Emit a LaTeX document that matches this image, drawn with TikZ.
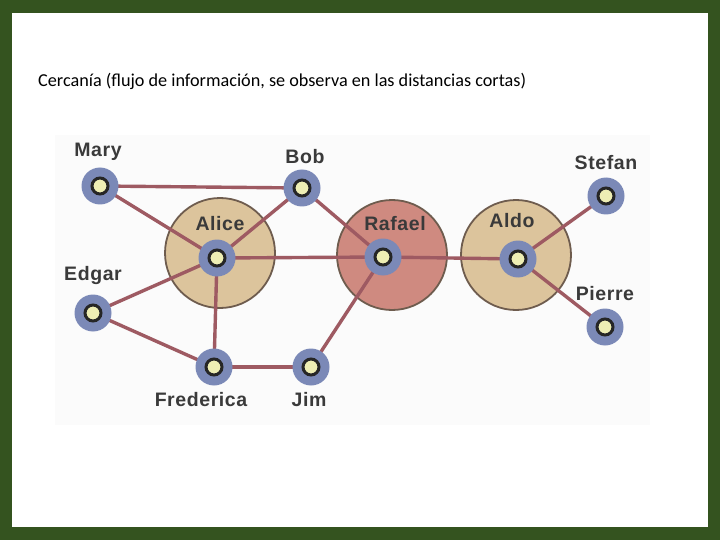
\documentclass[tikz,border=0pt]{standalone}
\usepackage{fontspec}
\setmainfont{Carlito}
\newfontfamily\lblfont[LetterSpace=3]{Liberation Sans Bold}
\definecolor{frame}{HTML}{34531F}
\definecolor{edgec}{HTML}{9E5A62}
\definecolor{ringc}{HTML}{7B89B7}
\definecolor{corec}{HTML}{EEEEB4}
\definecolor{tanc}{HTML}{DCC49C}
\definecolor{rafc}{HTML}{CF8A80}
\definecolor{bigbd}{HTML}{6E5C4E}
\definecolor{lblc}{HTML}{3A3A3A}
\tikzset{
  bigc/.style={circle, draw=bigbd, line width=1.8pt, minimum size=110pt, inner sep=0pt},
  pnode/.style={circle, fill=ringc, minimum size=37pt, inner sep=0pt,
     path picture={\fill[corec, draw=black!85, line width=3pt] (path picture bounding box.center) circle (8pt);}},
  lnk/.style={draw=edgec, line width=3.4pt},
  lbl/.style={font=\lblfont\fontsize{19.5}{19.5}\selectfont, text=lblc, inner sep=0pt}
}
\begin{document}
\begin{tikzpicture}[x=1pt,y=-1pt]
\useasboundingbox (0,0) rectangle (720,540);
\fill[frame] (0,0) rectangle (720,540);
\fill[white] (12,13) rectangle (708,527);
\fill[black!1.5] (55,135) rectangle (650,425);
\node[anchor=base west, font=\fontsize{18.2}{18.2}\selectfont, inner sep=0pt] (title) at (38,87) {Cercanía (flujo de información, se observa en las distancias cortas)};
% big circles
\node[bigc, fill=tanc] (alicec) at (220,253) {};
\node[bigc, fill=rafc] (rafaelc) at (392,255) {};
\node[bigc, fill=tanc] (aldoc) at (516,255) {};
% coordinates of people
\coordinate (mary) at (100,186);
\coordinate (bob) at (302,188);
\coordinate (alice) at (217,258);
\coordinate (rafael) at (383,257);
\coordinate (aldo) at (518,259);
\coordinate (stefan) at (606,196);
\coordinate (pierre) at (605,327);
\coordinate (edgar) at (93,313);
\coordinate (frederica) at (214,367);
\coordinate (jim) at (311,367);
% links
\draw[lnk] (mary) -- (bob);
\draw[lnk] (mary) -- (alice);
\draw[lnk] (bob) -- (alice);
\draw[lnk] (bob) -- (rafael);
\draw[lnk] (alice) -- (rafael);
\draw[lnk] (alice) -- (edgar);
\draw[lnk] (alice) -- (frederica);
\draw[lnk] (edgar) -- (frederica);
\draw[lnk] (frederica) -- (jim);
\draw[lnk] (jim) -- (rafael);
\draw[lnk] (rafael) -- (aldo);
\draw[lnk] (aldo) -- (stefan);
\draw[lnk] (aldo) -- (pierre);
% person nodes
\foreach \p in {mary,bob,alice,rafael,aldo,stefan,pierre,edgar,frederica,jim}
  \node[pnode] (\p n) at (\p) {};
% labels
\node[lbl] (lmary) at (98,152) {Mary};
\node[lbl] (lbob) at (305,157) {Bob};
\node[lbl] (lalice) at (220,224) {Alice};
\node[lbl] (lrafael) at (395,224) {Rafael};
\node[lbl] (laldo) at (512,221) {Aldo};
\node[lbl] (lstefan) at (606,163) {Stefan};
\node[lbl] (lpierre) at (605,294) {Pierre};
\node[lbl] (ledgar) at (93,276) {Edgar};
\node[lbl] (lfrederica) at (201,400) {Frederica};
\node[lbl] (ljim) at (309,400) {Jim};
\end{tikzpicture}
\end{document}
